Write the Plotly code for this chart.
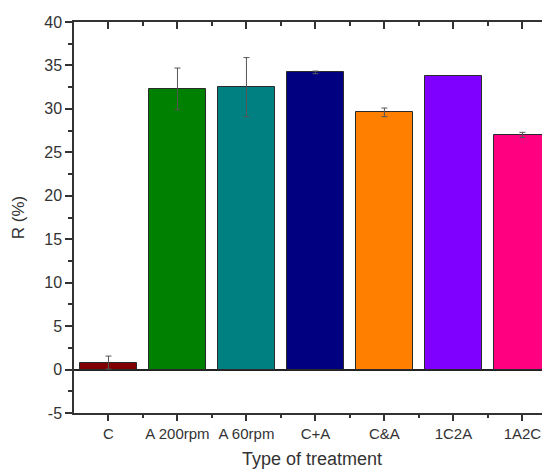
import plotly.graph_objects as go

categories = ["C", "A 200rpm", "A 60rpm", "C+A", "C&A", "1C2A", "1A2C"]
values = [0.8, 32.3, 32.5, 34.2, 29.6, 33.75, 27.0]
errors = [0.75, 2.4, 3.4, 0.15, 0.5, None, 0.3]
colors = ["#800000", "#008000", "#008080", "#000080", "#FF8000", "#8000FF", "#FF0080"]
y_tick_vals = [-5, 0, 5, 10, 15, 20, 25, 30, 35, 40]
y_tick_text = ["-5", "0", "5", "10", "15", "20", "25", "30", "35", "40"]

positions = list(range(len(categories)))
minor_positions = [p + 0.5 for p in positions[:-1]]

# points that carry an error bar
err_x = [p for p, e in zip(positions, errors) if e is not None]
err_y = [v for v, e in zip(values, errors) if e is not None]
err_v = [e for e in errors if e is not None]

axis_color = "#333333"
font_family = "Liberation Sans, Arial, sans-serif"

fig = go.Figure()
fig.add_trace(go.Bar(
    x=positions,
    y=values,
    width=0.82,
    marker=dict(color=colors, line=dict(color="#2a2a2a", width=1)),
    showlegend=False,
    hoverinfo="skip",
))
fig.add_trace(go.Scatter(
    x=err_x, y=err_y, mode="markers",
    marker=dict(opacity=0, size=1),
    error_y=dict(type="data", array=err_v, visible=True,
                 color="#555555", thickness=1, width=3),
    showlegend=False, hoverinfo="skip",
))
# invisible trace to carry the top mirror axis
fig.add_trace(go.Scatter(x=[positions[0]], y=[values[0]], xaxis="x2",
                         mode="markers", marker=dict(opacity=0),
                         showlegend=False, hoverinfo="skip"))

xrange = [-0.5, 6.4]

fig.update_layout(
    width=542, height=462,
    margin=dict(l=66, r=0, t=14, b=57),
    plot_bgcolor="white",
    paper_bgcolor="white",
    font=dict(family=font_family, color=axis_color),
    bargap=0,
    xaxis=dict(
        range=xrange,
        tickmode="array", tickvals=positions, ticktext=categories,
        ticks="outside", ticklen=6, tickwidth=1.5, tickcolor=axis_color,
        minor=dict(tickmode="array", tickvals=minor_positions,
                   ticks="outside", ticklen=3, tickwidth=1.5, tickcolor=axis_color),
        showline=True, linecolor=axis_color, linewidth=1.5,
        showgrid=False, zeroline=False,
        tickfont=dict(size=15, color=axis_color),
        title=dict(text="Type of treatment", font=dict(size=18, color=axis_color),
                   standoff=12),
    ),
    xaxis2=dict(
        overlaying="x", side="top", anchor="y",
        range=xrange,
        tickmode="array", tickvals=positions, showticklabels=False,
        ticks="inside", ticklen=7, tickwidth=1.5, tickcolor=axis_color,
        minor=dict(tickmode="array", tickvals=minor_positions,
                   ticks="inside", ticklen=4, tickwidth=1.5, tickcolor=axis_color),
        showline=True, linecolor=axis_color, linewidth=1.5,
        showgrid=False, zeroline=False,
    ),
    yaxis=dict(
        range=[-5, 40],
        tickmode="array", tickvals=y_tick_vals, ticktext=y_tick_text,
        ticks="outside", ticklen=7, tickwidth=1.5, tickcolor=axis_color,
        minor=dict(dtick=2.5, tick0=0, ticks="outside", ticklen=4, tickwidth=1.5,
                   tickcolor=axis_color),
        showline=True, linecolor=axis_color, linewidth=1.5,
        showgrid=False,
        zeroline=True, zerolinecolor="#222222", zerolinewidth=1.5,
        tickfont=dict(size=16, color=axis_color),
        title=dict(text="R (%)", font=dict(size=17, color=axis_color), standoff=15),
    ),
)

fig.write_html("out.html")
